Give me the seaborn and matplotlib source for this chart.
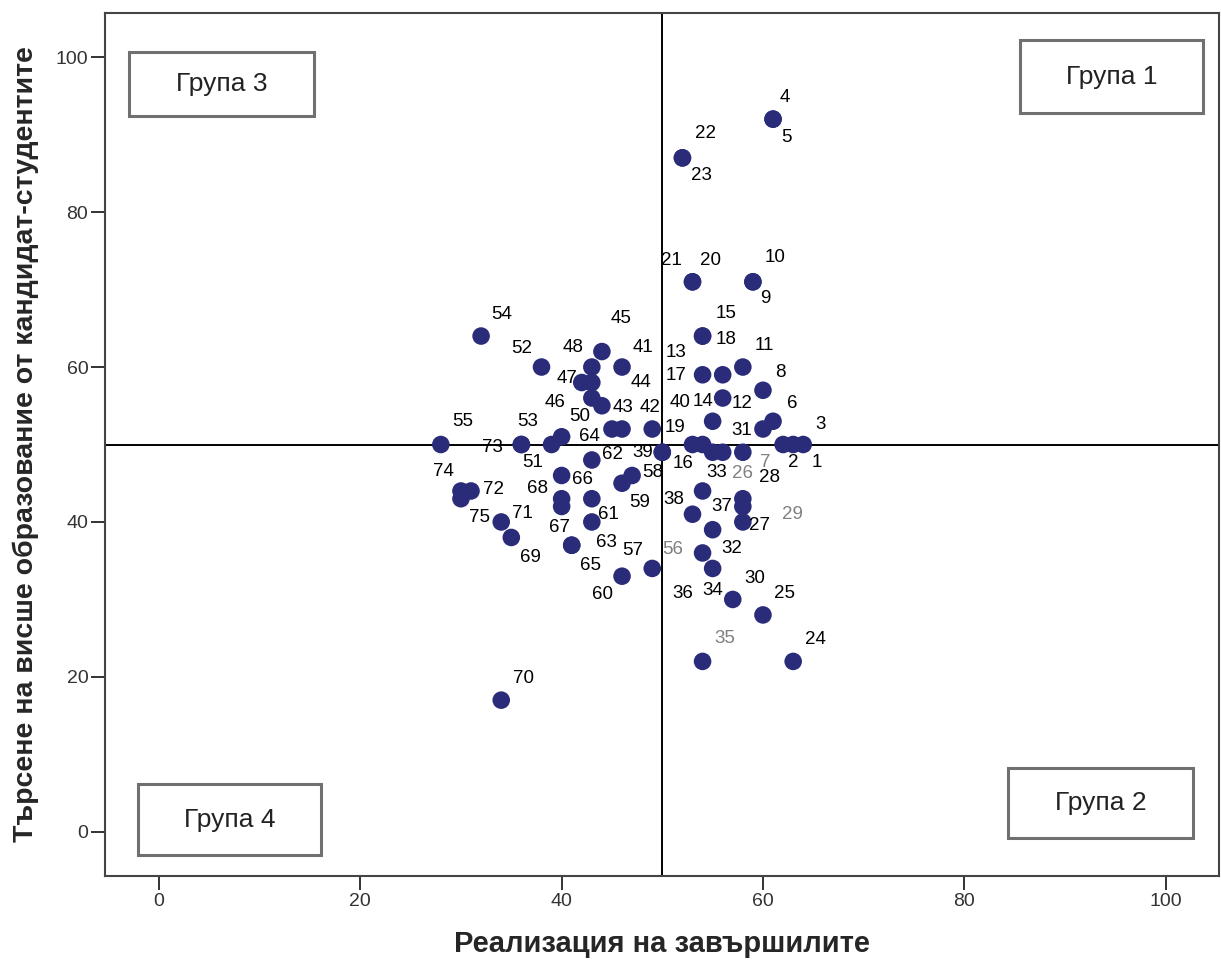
import matplotlib
matplotlib.use('Agg')
import matplotlib.pyplot as plt
import seaborn as sns
import pandas as pd
from matplotlib.patches import Rectangle

# case numbers and values
case_id = list(range(1, 76))
realizacia = [64, 62, 63, 61, 61, 61, 58, 60, 59, 59,
              58, 56, 54, 55, 54, 50, 56, 54, 49, 53,
              53, 52, 52, 63, 60, 58, 58, 58, 56, 57,
              60, 54, 54, 55, 54, 55, 55, 53, 50, 54,
              46, 46, 45, 44, 44, 43, 42, 43, 43, 40,
              39, 38, 36, 32, 28, 49, 46, 47, 46, 43,
              43, 43, 41, 53, 41, 40, 40, 40, 35, 34,
              34, 31, 36, 30, 30]
tarsene = [50, 50, 50, 92, 92, 53, 49, 57, 71, 71,
           60, 56, 59, 53, 64, 49, 59, 64, 52, 71,
           71, 87, 87, 22, 28, 43, 40, 42, 49, 30,
           52, 36, 44, 34, 22, 49, 39, 41, 49, 50,
           60, 52, 52, 55, 62, 56, 58, 60, 58, 51,
           50, 60, 50, 64, 50, 34, 33, 46, 45, 43,
           40, 48, 37, 50, 37, 46, 42, 43, 38, 17,
           40, 44, 50, 44, 43]

groups = ['Група 1', 'Група 2', 'Група 3', 'Група 4']

df = pd.DataFrame({'id': case_id, 'x': realizacia, 'y': tarsene})

# label offsets in pixels (dx, dy up), like the spss label placement
lbl_off = {
    1: (14, -18), 2: (10, -18), 3: (27, 20), 4: (12, 22), 5: (13, -18),
    6: (19, 18), 7: (22, -10), 8: (17, 18), 9: (12, -17), 10: (22, 24),
    11: (21, 22), 12: (19, -5), 13: (-27, 22), 14: (-10, 20), 15: (23, 23),
    16: (21, -11), 17: (-47, -1), 18: (23, -3), 19: (23, 2), 20: (18, 21),
    21: (-21, 21), 22: (23, 24), 23: (19, -18), 24: (22, 22), 25: (22, 21),
    26: (0, 25), 27: (17, -4), 28: (27, 29), 29: (70, -62), 30: (22, 21),
    31: (-21, -1), 32: (29, 4), 33: (14, 18), 34: (0, -22), 35: (22, 23),
    36: (-30, -141), 37: (9, 23), 38: (-19, 15), 39: (-20, 0), 40: (-23, 42),
    41: (21, 20), 42: (28, 22), 43: (11, 22), 44: (39, 23), 45: (19, 33),
    46: (-37, -4), 47: (-15, 4), 48: (-19, 20), 50: (18, 20),
    51: (-19, -18), 52: (-20, 19), 53: (6, 23), 54: (21, 22), 55: (22, 23),
    56: (20, 19), 57: (11, 26), 58: (21, 3), 59: (18, -19), 60: (11, -96),
    61: (17, 7), 62: (21, 5), 63: (35, 3), 64: (-103, 8), 65: (19, -20),
    66: (21, -4), 67: (-2, -21), 68: (-24, 10), 69: (19, -20), 70: (22, 22),
    71: (21, 8), 72: (22, 1), 73: (-29, -3), 74: (-18, 19), 75: (19, -19),
}
grey_lbl = [7, 26, 29, 35, 56]

sns.set_style('white')
plt.rcParams['font.family'] = ['Liberation Sans', 'DejaVu Sans']

fig = plt.figure(figsize=(12.21, 9.6), dpi=100)
ax = fig.add_axes([105 / 1221, 84 / 960, 1114 / 1221, 863 / 960])

sns.scatterplot(data=df, x='x', y='y', ax=ax, s=160, color='#2a2c7a',
                edgecolor='none', linewidth=0, zorder=3)

ax.axvline(50, color='black', lw=1.4, zorder=2)
ax.axhline(50, color='black', lw=1.4, zorder=2)

for i, xv, yv in zip(df['id'], df['x'], df['y']):
    if i not in lbl_off:
        continue
    c = '#808080' if i in grey_lbl else 'black'
    ax.annotate(str(i), (xv, yv), xytext=lbl_off[i], textcoords='offset pixels',
                ha='center', va='center', fontsize=13.5, color=c, zorder=4)

# group boxes
box_pos = {
    'Група 1': (0.8214, 0.8841, 0.1643, 0.0846),
    'Група 2': (0.8106, 0.0440, 0.1660, 0.0811),
    'Група 3': (0.0215, 0.8807, 0.1660, 0.0742),
    'Група 4': (0.0296, 0.0243, 0.1643, 0.0823),
}
for g in groups:
    x0, y0, w, h = box_pos[g]
    ax.add_patch(Rectangle((x0, y0), w, h, transform=ax.transAxes, fill=False,
                           edgecolor='#707070', lw=2.2, zorder=5))
    ax.text(x0 + w / 2, y0 + h / 2, g, transform=ax.transAxes, ha='center',
            va='center', fontsize=19, color='#222222', zorder=5)

ax.set_xlim(-5.36, 105.3)
ax.set_ylim(-5.7, 105.7)
ax.set_xticks([0, 20, 40, 60, 80, 100])
ax.set_yticks([0, 20, 40, 60, 80, 100])
ax.tick_params(direction='out', length=10, width=1.4, color='#333333', pad=2,
               labelsize=14, labelcolor='#333333', bottom=True, left=True)
for sp in ax.spines.values():
    sp.set_color('#444444')
    sp.set_linewidth(1.5)

ax.set_xlabel('Реализация на завършилите', fontsize=21, fontweight='bold',
              labelpad=15)
ax.set_ylabel('Търсене на висше образование от кандидат-студентите',
              fontsize=20.5, fontweight='bold', labelpad=12)

fig.savefig('out.png', dpi=100)
